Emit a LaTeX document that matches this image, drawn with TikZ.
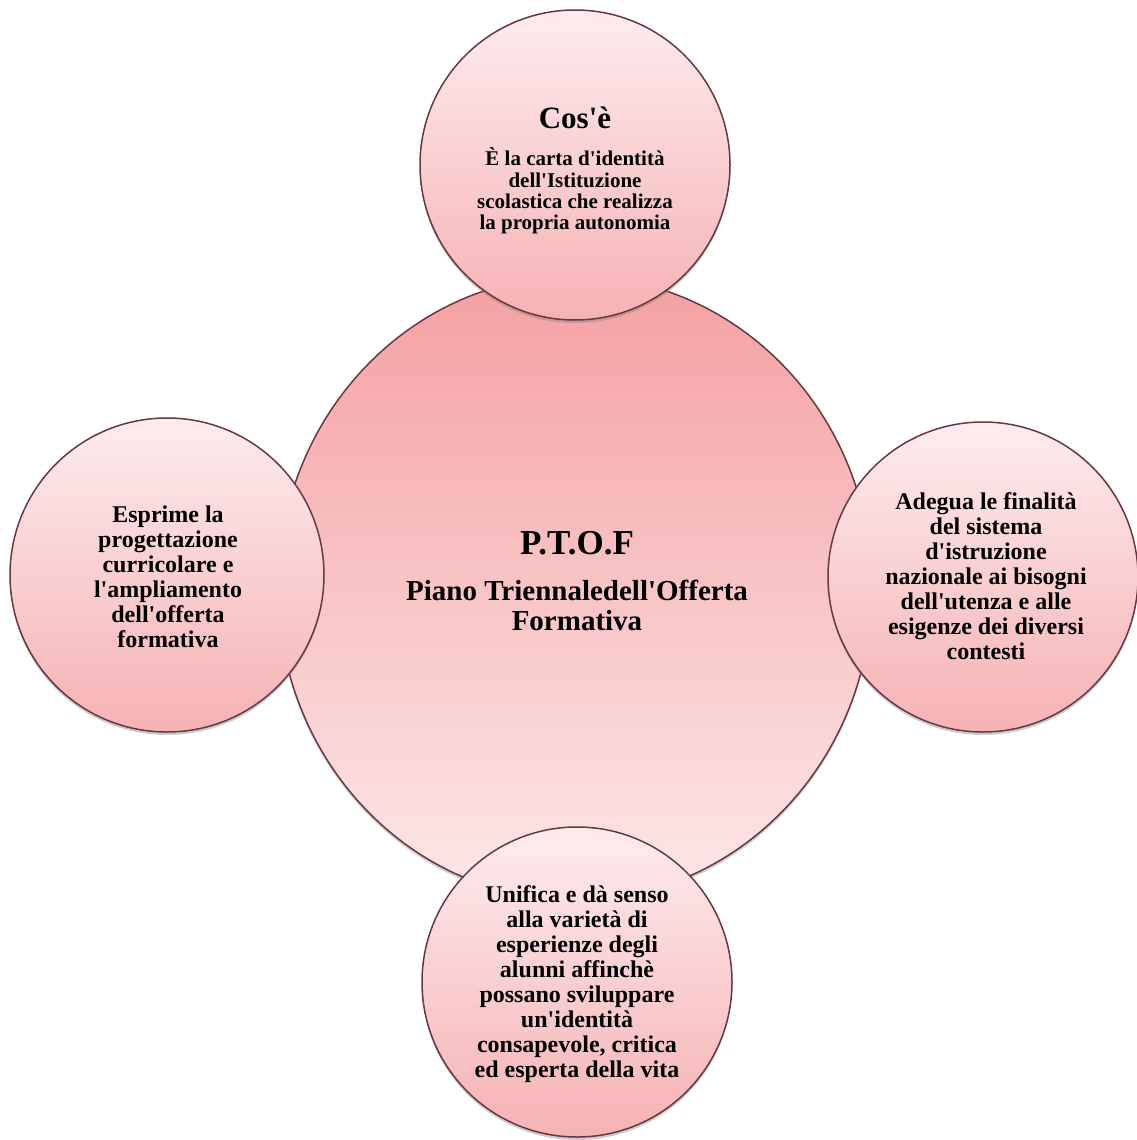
\documentclass[tikz,border=0pt]{standalone}
\usepackage{fontspec}
\newfontfamily\ptoffont{Liberation Serif}
\usetikzlibrary{shapes.geometric,shadows}
\definecolor{rim}{RGB}{105,55,65}
\definecolor{ptofTop}{RGB}{244,160,162}
\definecolor{ptofBot}{RGB}{253,232,232}
\definecolor{bubTop}{RGB}{253,236,238}
\definecolor{bubBot}{RGB}{246,178,180}
\begin{document}
\begin{tikzpicture}[x=1pt,y=-1pt,
  bubble/.style={circle,inner sep=0,minimum size=310pt,draw=rim,line width=1.5pt,top color=bubTop,bottom color=bubBot,
    drop shadow={shadow xshift=0pt,shadow yshift=-3pt,opacity=0.4}},
  txt/.style={align=center,inner sep=0,font=\ptoffont\bfseries\fontsize{24}{25}\selectfont}]
\useasboundingbox (0,0) rectangle (1136,1140);
\node[ellipse,inner sep=0,minimum width=594pt,minimum height=624pt,draw=rim,line width=1.5pt,top color=ptofTop,bottom color=ptofBot,
  drop shadow={shadow xshift=0pt,shadow yshift=-3pt,opacity=0.4}] (ptof) at (575,588) {};
\node[bubble] (cose) at (575,165) {};
\node[bubble,minimum size=314pt] (esprime) at (167,575) {};
\node[bubble] (adegua) at (983,577) {};
\node[bubble] (unifica) at (577,982) {};
\node[anchor=base,inner sep=0,font=\ptoffont\bfseries\fontsize{35}{36}\selectfont] (sigla) at (577,554) {P.T.O.F};
\node[txt,font=\ptoffont\bfseries\fontsize{29}{30}\selectfont] (piano) at (577,605) {Piano Triennaledell'Offerta\\Formativa};
\node[anchor=base,inner sep=0,font=\ptoffont\bfseries\fontsize{31}{32}\selectfont] (cosetit) at (575,128) {Cos'è};
\node[txt,font=\ptoffont\bfseries\fontsize{21}{21.3}\selectfont] (cosetxt) at (575,191) {È la carta d'identità\\dell'Istituzione\\scolastica che realizza\\la propria autonomia};
\node[txt] (esprimetxt) at (168,577) {Esprime la\\progettazione\\curricolare e\\l'ampliamento\\dell'offerta\\formativa};
\node[txt] (adeguatxt) at (986,576) {Adegua le finalità\\del sistema\\d'istruzione\\nazionale ai bisogni\\dell'utenza e alle\\esigenze dei diversi\\contesti};
\node[txt] (unificatxt) at (577,984) {Unifica e dà senso\\alla varietà di\\esperienze degli\\alunni affinchè\\possano sviluppare\\un'identità\\consapevole, critica\\ed esperta della vita};
\end{tikzpicture}
\end{document}
